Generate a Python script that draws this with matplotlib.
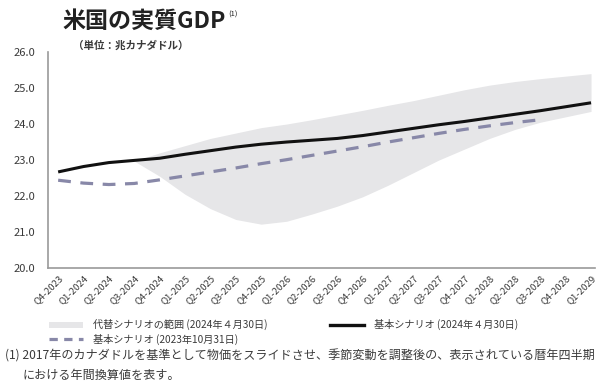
import matplotlib
matplotlib.use("Agg")
import matplotlib.pyplot as plt
from matplotlib.lines import Line2D
from matplotlib.patches import Patch

plt.rcParams['font.family'] = ['Noto Sans CJK JP', 'DejaVu Sans']

quarters = ["Q4-2023", "Q1-2024", "Q2-2024", "Q3-2024", "Q4-2024",
            "Q1-2025", "Q2-2025", "Q3-2025", "Q4-2025", "Q1-2026",
            "Q2-2026", "Q3-2026", "Q4-2026", "Q1-2027", "Q2-2027",
            "Q3-2027", "Q4-2027", "Q1-2028", "Q2-2028", "Q3-2028",
            "Q4-2028", "Q1-2029"]

# Base scenario, April 2024 (trillions of CAD)
base_apr2024 = [22.67, 22.82, 22.93, 22.99, 23.05, 23.16, 23.26, 23.36,
                23.44, 23.50, 23.55, 23.60, 23.68, 23.78, 23.88, 23.98,
                24.07, 24.17, 24.27, 24.37, 24.48, 24.59]

# Base scenario, October 2023 (ends at Q3-2028)
base_oct2023 = [22.44, 22.36, 22.32, 22.35, 22.45, 22.56, 22.67, 22.78,
                22.90, 23.01, 23.13, 23.25, 23.37, 23.50, 23.62, 23.74,
                23.85, 23.95, 24.04, 24.12]

# Range of alternative scenarios, from Q3-2024 onwards
range_start = 3
range_upper = [22.97, 23.20, 23.40, 23.60, 23.75, 23.90, 24.00, 24.12,
               24.25, 24.38, 24.52, 24.65, 24.80, 24.95, 25.08, 25.18,
               25.26, 25.33, 25.40]
range_lower = [22.97, 22.55, 22.05, 21.65, 21.35, 21.22, 21.30, 21.50,
               21.72, 21.98, 22.30, 22.65, 23.00, 23.30, 23.60, 23.85,
               24.05, 24.20, 24.35]

yticks = [20.0, 21.0, 22.0, 23.0, 24.0, 25.0, 26.0]

txt = "#3a3a3a"
band_col = "#e6e6e8"
dash_col = "#8888a8"

fig = plt.figure(figsize=(5.97, 3.88), dpi=100)
ax = fig.add_axes([0.0804, 0.309, 0.916, 0.557])

x_all = list(range(len(quarters)))
x_rng = list(range(range_start, range_start + len(range_upper)))

ax.fill_between(x_rng, range_lower, range_upper, color=band_col, lw=0,
                zorder=1)
ax.plot(x_all, base_apr2024, color="#111111", lw=2.2, zorder=3,
        solid_capstyle="butt")
ax.plot(x_all[:len(base_oct2023)], base_oct2023, color=dash_col, lw=2.3,
        dashes=(4.0, 3.0), zorder=2)

ax.set_xlim(-0.4, 21.15)
ax.set_ylim(20, 26)
ax.set_yticks(yticks)
ax.set_yticklabels([f"{v:.1f}" for v in yticks], fontsize=8, color=txt)
ax.set_xticks(x_all)
ax.set_xticklabels(quarters, rotation=45, ha="right", rotation_mode="anchor",
                   fontsize=6.9, color=txt)
ax.tick_params(axis="both", length=0, pad=4)
ax.tick_params(axis="y", pad=9)
for s in ("top", "right"):
    ax.spines[s].set_visible(False)
for s in ("left", "bottom"):
    ax.spines[s].set_color("#9a9a9a")
    ax.spines[s].set_linewidth(1.2)

title = fig.text(0.104, 0.945, "米国の実質GDP", fontsize=16.6,
                 fontweight="bold", color="#222222", va="center", ha="left")
fig.canvas.draw()
bb = title.get_window_extent().transformed(fig.transFigure.inverted())
fig.text(bb.x1 + 0.004, 0.962, "(1)", fontsize=5.5, color="#222222",
         va="center", ha="left")
fig.text(0.122, 0.882, "（単位：兆カナダドル）", fontsize=7.6,
         fontweight="bold", color=txt, va="center", ha="left")

handles = [
    Patch(facecolor=band_col, edgecolor="none",
          label="代替シナリオの範囲 (2024年４月30日)"),
    Line2D([], [], color=dash_col, lw=2.3, dashes=(2.6, 2.0),
           label="基本シナリオ (2023年10月31日)"),
    Line2D([], [], color="#111111", lw=2.4,
           label="基本シナリオ (2024年４月30日)"),
]
fig.legend(handles=handles, loc="upper left", bbox_to_anchor=(0.074, 0.19),
           ncol=2, frameon=False, fontsize=7.3, labelcolor=txt,
           handlelength=3.3, handleheight=0.6, handletextpad=1.0,
           columnspacing=6.2, labelspacing=0.3, borderpad=0)

fig.text(0.008, 0.082,
         "(1) 2017年のカナダドルを基準として物価をスライドさせ、季節変動を調整後の、表示されている暦年四半期",
         fontsize=8.7, color=txt, va="center", ha="left")
fig.text(0.038, 0.033, "における年間換算値を表す。", fontsize=8.7,
         color=txt, va="center", ha="left")

fig.savefig("out.png", dpi=100)
